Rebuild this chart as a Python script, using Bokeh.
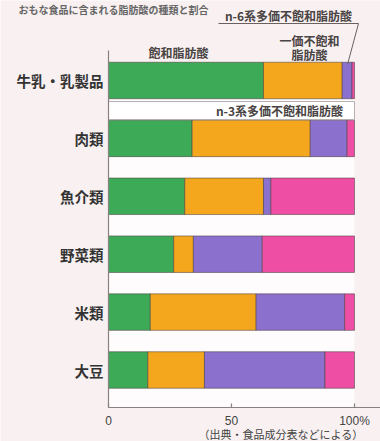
from bokeh.plotting import figure
from bokeh.models import ColumnDataSource, Range1d
from bokeh.core.properties import value
from bokeh.embed import file_html
from bokeh.resources import INLINE

# ---- data ----
categories = ["牛乳・乳製品", "肉類", "魚介類", "野菜類", "米類", "大豆"]
saturated = [63, 34, 31, 26.5, 17, 16]          # 飽和脂肪酸
mono = [32, 48, 32, 8, 43, 23]                   # 一価不飽和脂肪酸
n6 = [4, 15, 3, 28, 36, 49]                      # n-6系多価不飽和脂肪酸
n3 = [1, 3, 34, 37.5, 4, 12]                     # n-3系多価不飽和脂肪酸
series = ["saturated", "mono", "n6", "n3"]
colors = ["#3daa58", "#f4a71d", "#8b70cd", "#ee4fa5"]
x_ticks = [0, 50, 100]
x_tick_labels = ["0", "50", "100%"]
label_sat = "飽和脂肪酸"
label_mono = ["一価不飽和", "脂肪酸"]
label_n6 = "n-6系多価不飽和脂肪酸"
label_n3 = "n-3系多価不飽和脂肪酸"
title_text = "おもな食品に含まれる脂肪酸の種類と割合"
note_text = "（出典・食品成分表などによる）"

JP = value("Noto Sans CJK JP")

n = len(categories)
ypos = [n - 1 - i for i in range(n)]
src = ColumnDataSource(dict(y=ypos, cat=categories, saturated=saturated,
                            mono=mono, n6=n6, n3=n3))

W, H = 380, 441
px_per_x = 2.46
x0_px = 108
px_per_y = 57.9
top_center_px = 80

x_start = -x0_px / px_per_x
x_end = (W - x0_px) / px_per_x
y_end = (n - 1) + top_center_px / px_per_y
y_start = y_end - H / px_per_y

def ypx(p):
    return y_end - p / px_per_y

def xpx(p):
    return (p - x0_px) / px_per_x

p = figure(width=W, height=H, output_backend="svg", toolbar_location=None,
           x_range=Range1d(x_start, x_end), y_range=Range1d(y_start, y_end),
           min_border=0, min_border_left=0, min_border_right=0,
           min_border_top=0, min_border_bottom=0)
p.axis.visible = False
p.grid.visible = False
p.outline_line_color = None
p.background_fill_color = "#f9f1f1"
p.border_fill_color = "#f9f1f1"

axis_y = ypx(407)

# white plotting area below first bar
p.quad(left=[0], right=[100], bottom=[axis_y], top=[ypx(98)],
       fill_color="#fefcfc", line_color=None)

# stacked bars
p.hbar_stack(series, y="y", height=0.63, color=colors, source=src,
             line_color="#4d4040", line_width=0.8, line_alpha=0.7)

# n-3 label box
p.quad(left=[0], right=[100], bottom=[ypx(119)], top=[ypx(101)],
       fill_color="#ffffff", line_color="#b8b0b0", line_width=1)

# axes lines
p.segment(x0=[0], y0=[ypx(50)], x1=[0], y1=[axis_y], line_color="#8a8080", line_width=1.2)
p.segment(x0=[0], y0=[axis_y], x1=[x_end], y1=[axis_y], line_color="#8a8080", line_width=1.2)
p.segment(x0=x_ticks, y0=[axis_y] * len(x_ticks), x1=x_ticks,
          y1=[axis_y + 4 / px_per_y] * len(x_ticks), line_color="#8a8080", line_width=1.2)
p.text(x=x_ticks, y=[ypx(420)] * len(x_ticks), text=x_tick_labels,
       text_align="center", text_baseline="middle", text_font=value("Liberation Sans"),
       text_font_size="12px", text_color="#444444")

# category labels
p.text(x=[xpx(103)] * n, y=ypos, text=categories, text_align="right",
       text_baseline="middle", text_font=JP, text_font_size="14.5px",
       text_font_style="bold", text_color="#333333")

# annotations
p.text(x=[xpx(178)], y=[ypx(52)], text=[label_sat], text_align="center",
       text_baseline="middle", text_font=JP, text_font_size="12px",
       text_font_style="bold", text_color="#4a4444")
p.text(x=[xpx(309)] * 2, y=[ypx(40), ypx(54)], text=label_mono, text_align="center",
       text_baseline="middle", text_font=JP, text_font_size="12px",
       text_font_style="bold", text_color="#4a4444")
p.text(x=[xpx(288)], y=[ypx(15)], text=[label_n6], text_align="center",
       text_baseline="middle", text_font=JP, text_font_size="12px",
       text_font_style="bold", text_color="#4a4444")
p.segment(x0=[xpx(218)], y0=[ypx(23)], x1=[xpx(358)], y1=[ypx(23)],
          line_color="#6a6060", line_width=1)
p.segment(x0=[xpx(358)], y0=[ypx(23)], x1=[xpx(347)], y1=[ypx(64)],
          line_color="#6a6060", line_width=1)
p.text(x=[xpx(279)], y=[ypx(110)], text=[label_n3], text_align="center",
       text_baseline="middle", text_font=JP, text_font_size="12px",
       text_font_style="bold", text_color="#4a4444")

# title at top (small, fully visible) and source note
p.text(x=[xpx(18)], y=[ypx(1)], text=[title_text], text_align="left",
       text_baseline="top", text_font=JP, text_font_size="10px",
       text_font_style="bold", text_color="#666666")
p.text(x=[xpx(198)], y=[ypx(433)], text=[note_text], text_align="left",
       text_baseline="middle", text_font=JP, text_font_size="11px",
       text_color="#444444")

open("out.html", "w").write(file_html(p, INLINE))
